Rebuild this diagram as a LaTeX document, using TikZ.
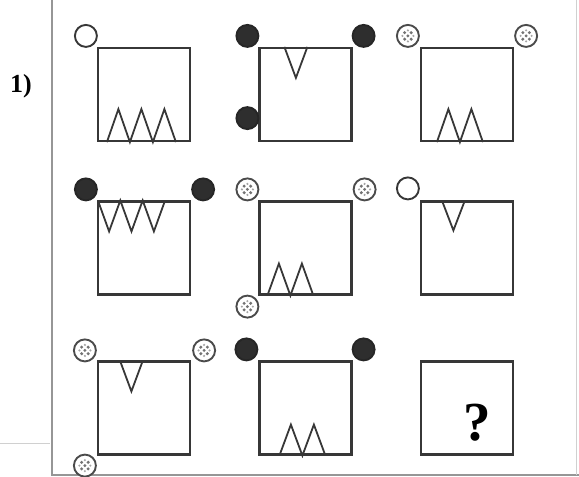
\documentclass[tikz,border=0pt]{standalone}
\usepackage{fontspec}
\setmainfont{Liberation Serif}
\usepackage{xcolor}
\usetikzlibrary{calc}
\definecolor{inkgray}{RGB}{55,55,55}
\definecolor{framegray}{RGB}{150,150,150}

\begin{document}
\begin{tikzpicture}[x=1pt,y=-1pt,
  fig/.style={draw=inkgray,line width=2.2pt,minimum width=92pt,minimum height=93pt,inner sep=0pt},
  zig/.style={draw=inkgray,line width=1.8pt},
  ring/.style={circle,draw=inkgray,line width=1.9pt,minimum size=22pt,inner sep=0pt,fill=white},
  blk/.style={ring,draw=black!85,fill=black!82},
  spot/.style={ring,draw=inkgray!90,path picture={
    \foreach \a in {45,135,225,315}
      \fill[inkgray!70] (path picture bounding box.center) ++(\a:4.6pt) circle (1.7pt);
    \foreach \a in {0,90,180,270}
      \fill[inkgray!45] (path picture bounding box.center) ++(\a:5.5pt) circle (1.2pt);
    \fill[inkgray!70] (path picture bounding box.center) circle (1.6pt);}}]
  \useasboundingbox (0,0) rectangle (579,477);
  %% frame
  \draw[framegray,line width=1.8pt] (52,0) -- (52,475) -- (579,475);
  \draw[framegray!45,line width=0.8pt] (576,0) -- (576,475);
  \draw[framegray!45,line width=0.8pt] (0,443) -- (50,443);
  \node[font=\fontsize{26}{28}\selectfont\bfseries] (num) at (21,86) {1)};
  %% boxes
  \node[fig] (b11) at (144,94.5) {};
  \node[fig] (b12) at (305.5,94.5) {};
  \node[fig] (b13) at (467,94.5) {};
  \node[fig] (b21) at (144,248) {};
  \node[fig] (b22) at (305.5,248) {};
  \node[fig] (b23) at (467,248) {};
  \node[fig] (b31) at (144,408) {};
  \node[fig] (b32) at (305.5,408) {};
  \node[fig] (b33) at (467,408) {};
  %% row 1
  \draw[zig] ($(b11.south west)+(10,0)$) foreach \i in {1,2,3} { -- ++(11.5,-33) -- ++(11.5,33) };
  \draw[zig] ($(b12.north west)+(26,0)$) -- ++(11.5,31) -- ++(11.5,-31);
  \draw[zig] ($(b13.south west)+(17,0)$) foreach \i in {1,2} { -- ++(11.5,-33) -- ++(11.5,33) };
  \node[ring] (c11a) at ($(b11.north west)+(-11,-11)$) {};
  \node[blk] (c12a) at ($(b12.north west)+(-11,-11)$) {};
  \node[blk] (c12b) at ($(b12.north east)+(11,-11)$) {};
  \node[blk] (c12c) at ($(b12.south west)+(-11,-24)$) {};
  \node[spot] (c13a) at ($(b13.north west)+(-12,-11)$) {};
  \node[spot] (c13b) at ($(b13.north east)+(12,-11)$) {};
  %% row 2
  \draw[zig] ($(b21.north west)+(1,0)$) foreach \i in {1,2,3} { -- ++(11.2,31) -- ++(11.2,-31) };
  \draw[zig] ($(b22.south west)+(9,0)$) foreach \i in {1,2} { -- ++(11.5,-32) -- ++(11.5,32) };
  \draw[zig] ($(b23.north west)+(22,0)$) -- ++(11.5,30) -- ++(11.5,-30);
  \node[blk] (c21a) at ($(b21.north west)+(-11,-11)$) {};
  \node[blk] (c21b) at ($(b21.north east)+(12,-11)$) {};
  \node[spot] (c22a) at ($(b22.north west)+(-11,-11)$) {};
  \node[spot] (c22b) at ($(b22.north east)+(12,-11)$) {};
  \node[spot] (c22c) at ($(b22.south west)+(-11,11)$) {};
  \node[ring] (c23a) at ($(b23.north west)+(-12,-12)$) {};
  %% row 3
  \draw[zig] ($(b31.north west)+(23,0)$) -- ++(11.5,31) -- ++(11.5,-31);
  \draw[zig] ($(b32.south west)+(21,0)$) foreach \i in {1,2} { -- ++(11.5,-31) -- ++(11.5,31) };
  \node[spot] (c31a) at ($(b31.north west)+(-12,-10)$) {};
  \node[spot] (c31b) at ($(b31.north east)+(13,-10)$) {};
  \node[spot] (c31c) at ($(b31.south west)+(-12,10)$) {};
  \node[blk] (c32a) at ($(b32.north west)+(-12,-11)$) {};
  \node[blk] (c32b) at ($(b32.north east)+(11,-11)$) {};
  \node[font=\fontsize{55}{60}\selectfont\bfseries] (qm) at (477,423) {?};
\end{tikzpicture}
\end{document}
